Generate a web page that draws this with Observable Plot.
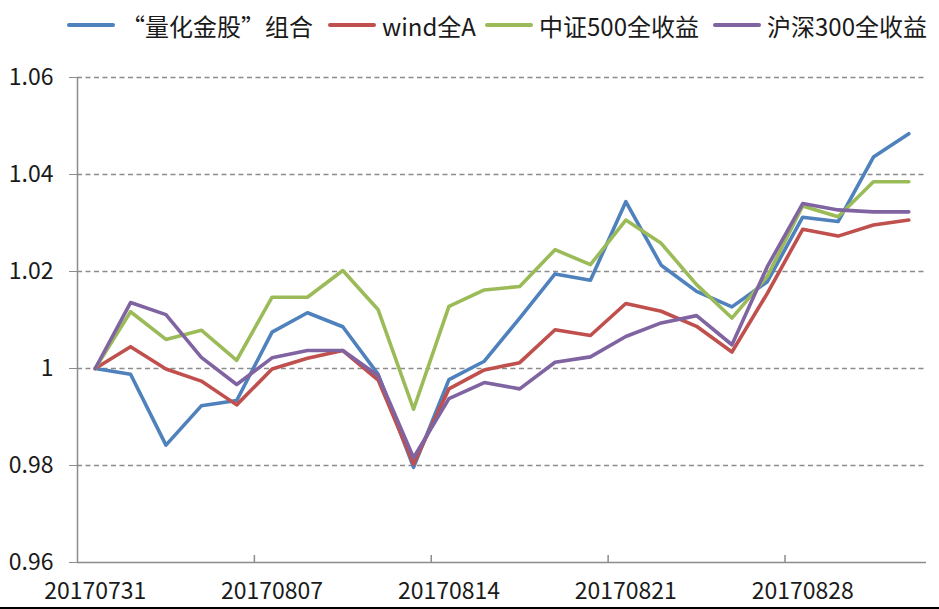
<!DOCTYPE html>
<html>
<head>
<meta charset="utf-8">
<script src="https://cdn.jsdelivr.net/npm/d3@7"></script>
<script src="https://cdn.jsdelivr.net/npm/@observablehq/plot@0.6"></script>
<style>
  html, body { margin: 0; padding: 0; background: #fff; }
  #wrap { width: 939px; height: 609px; box-sizing: border-box; border-bottom: 2px solid #000; overflow: hidden; }
  #legend { height: 50px; position: relative; font-family: "Noto Sans CJK SC", sans-serif; font-size: 24px; color: #1a1a1a; }
  .item { position: absolute; top: 0; height: 50px; display: flex; align-items: center; white-space: nowrap; }
  .sw { width: 48px; height: 4px; border-radius: 2px; margin-right: 6px; }
  #chart svg { display: block; }
</style>
</head>
<body>
<div id="wrap">
  <div id="legend"></div>
  <div id="chart"></div>
</div>
<script>
const dates = ["20170731","20170801","20170802","20170803","20170804",
               "20170807","20170808","20170809","20170810","20170811",
               "20170814","20170815","20170816","20170817","20170818",
               "20170821","20170822","20170823","20170824","20170825",
               "20170828","20170829","20170830","20170831"];
const seriesNames = ["“量化金股”组合", "wind全A", "中证500全收益", "沪深300全收益"];
const portfolio = [1.000, 0.9988, 0.9842, 0.9923, 0.9934, 1.0075, 1.0115, 1.0086, 0.9988, 0.9796,
                   0.9977, 1.0015, 1.0104, 1.0195, 1.0182, 1.0344, 1.0213, 1.0159, 1.0127, 1.0179,
                   1.0312, 1.0303, 1.0436, 1.0484];
const windA = [1.000, 1.0045, 0.9999, 0.9974, 0.9925, 0.9999, 1.0021, 1.0037, 0.9976, 0.9803,
               0.9958, 0.9997, 1.0012, 1.0080, 1.0068, 1.0134, 1.0118, 1.0087, 1.0034, 1.0155,
               1.0287, 1.0273, 1.0296, 1.0306];
const csi500 = [1.000, 1.0117, 1.0060, 1.0079, 1.0017, 1.0147, 1.0147, 1.0202, 1.0121, 0.9916,
                1.0128, 1.0162, 1.0169, 1.0245, 1.0214, 1.0306, 1.0258, 1.0173, 1.0104, 1.0190,
                1.0335, 1.0313, 1.0385, 1.0385];
const hs300 = [1.000, 1.0136, 1.0111, 1.0023, 0.9967, 1.0022, 1.0037, 1.0037, 0.9985, 0.9816,
               0.9938, 0.9971, 0.9958, 1.0013, 1.0024, 1.0066, 1.0094, 1.0109, 1.0049, 1.0210,
               1.0340, 1.0327, 1.0323, 1.0323];
const colors = ["#4F81BD", "#C0504D", "#9BBB59", "#8064A2"];
const yTicks = [0.96, 0.98, 1, 1.02, 1.04, 1.06];
const labelEvery = 5;

// legend (HTML, above the SVG)
const legendLeft = [67, 328, 485, 713];
const legend = document.getElementById("legend");
seriesNames.forEach((name, k) => {
  const it = document.createElement("div");
  it.className = "item";
  it.style.left = legendLeft[k] + "px";
  const sw = document.createElement("div");
  sw.className = "sw";
  sw.style.background = colors[k];
  const tx = document.createElement("span");
  tx.textContent = name;
  it.appendChild(sw); it.appendChild(tx);
  legend.appendChild(it);
});

const allSeries = [portfolio, windA, csi500, hs300];
const rows = [];
allSeries.forEach((vals, k) => vals.forEach((v, i) => rows.push({series: seriesNames[k], i, value: v})));

const n = dates.length;
const labelIdx = d3.range(0, n, labelEvery);
const boundaries = d3.range(labelEvery, n, labelEvery).map(i => i - 0.5);
const yMin = yTicks[0], yMax = yTicks[yTicks.length - 1];
const axisColor = "#8c8c8c";
const textColor = "#1a1a1a";

const chart = Plot.plot({
  width: 939,
  height: 557,
  marginTop: 27,
  marginBottom: 45,
  marginLeft: 77,
  marginRight: 13,
  style: {fontFamily: "'Noto Sans CJK SC', sans-serif", fontSize: "23px", color: textColor, background: "#fff"},
  x: {type: "linear", domain: [-0.5, n - 0.5], axis: null},
  y: {domain: [yMin, yMax], axis: null},
  color: {domain: seriesNames, range: colors},
  marks: [
    Plot.ruleY(yTicks.filter(t => t > yMin), {stroke: axisColor, strokeWidth: 1.3, strokeDasharray: "5,3.5"}),
    Plot.ruleY([yMin], {stroke: axisColor, strokeWidth: 1.5}),
    Plot.ruleX([-0.5], {stroke: axisColor, strokeWidth: 1.5}),
    Plot.ruleX(boundaries, {x: d => d, y1: () => yMin, y2: () => yMin, insetTop: -7, stroke: axisColor, strokeWidth: 1.5}),
    Plot.axisY(yTicks, {label: null, tickSize: 8, tickPadding: 16, stroke: axisColor, tickFormat: d3.format("~g"), fontSize: 23, fill: textColor}),
    Plot.axisX(labelIdx, {label: null, tickSize: 0, tickPadding: 20, tickFormat: i => dates[i], fontSize: 23, fill: textColor}),
    Plot.lineY(rows, {x: "i", y: "value", z: "series", stroke: "series", strokeWidth: 3.6, strokeLinejoin: "round", strokeLinecap: "round"})
  ]
});
document.getElementById("chart").appendChild(chart);
</script>
</body>
</html>
